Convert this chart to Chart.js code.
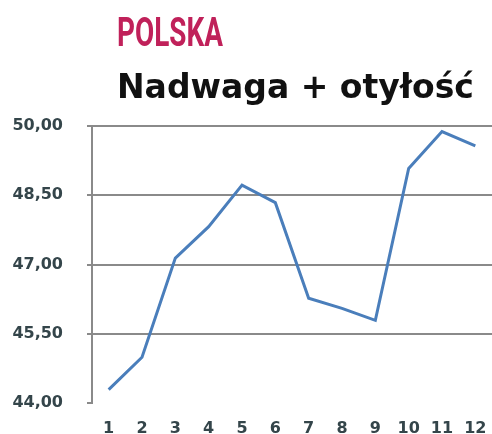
<!DOCTYPE html>
<html>
<head>
<meta charset="utf-8">
<script src="https://cdn.jsdelivr.net/npm/chart.js@4/dist/chart.umd.min.js"></script>
<style>
  html, body { margin: 0; padding: 0; background: #fff; }
  #wrap { position: relative; width: 492px; height: 434px; overflow: hidden; }
  #country {
    position: absolute; left: 117px; top: 12px;
    font-family: "Roboto", sans-serif; font-weight: 700; font-size: 41px;
    color: #c0215a;
    transform: scaleX(0.68); transform-origin: left top; line-height: 1;
  }
  #title {
    position: absolute; left: 117px; top: 70px;
    font-family: "DejaVu Sans", sans-serif; font-weight: bold; font-size: 33px;
    color: #111; line-height: 1; white-space: nowrap;
  }
  canvas { position: absolute; left: 0; top: 0; }
</style>
</head>
<body>
<div id="wrap">
  <canvas id="chart" width="492" height="434"></canvas>
  <div id="country">POLSKA</div>
  <div id="title">Nadwaga + otyłość</div>
</div>
<script>
  // dane
  const categories = ["1", "2", "3", "4", "5", "6", "7", "8", "9", "10", "11", "12"];
  const values = [44.29, 44.99, 47.14, 47.82, 48.72, 48.34, 46.27, 46.05, 45.79, 49.08, 49.88, 49.57];
  const yTicks = [44, 45.5, 47, 48.5, 50];

  const labelColor = "#34454a";
  const gridColor = "#8a8a8a";

  new Chart(document.getElementById("chart").getContext("2d"), {
    type: "line",
    data: {
      labels: categories,
      datasets: [{
        data: values,
        borderColor: "#4a7ebb",
        borderWidth: 3,
        pointRadius: 0,
        tension: 0,
        fill: false,
      }],
    },
    options: {
      responsive: false,
      animation: false,
      layout: { padding: { top: 126, left: 0, right: 0, bottom: 0 } },
      plugins: { legend: { display: false }, tooltip: { enabled: false } },
      scales: {
        x: {
          type: "category",
          offset: true,
          grid: { display: false, drawTicks: false },
          border: { display: false },
          ticks: {
            color: labelColor, padding: 16, maxRotation: 0, autoSkip: false,
            font: { family: "DejaVu Sans", size: 16, weight: "bold" },
          },
          afterFit: s => { s.height = 31; s.paddingLeft = 0; s.paddingRight = 0; },
        },
        y: {
          min: 44, max: 50,
          afterBuildTicks: s => { s.ticks = yTicks.map(v => ({ value: v })); },
          grid: {
            color: c => (c.tick && c.tick.value === 44 ? "rgba(0,0,0,0)" : gridColor),
            tickColor: gridColor,
            lineWidth: 2,
            tickLength: 5,
            drawTicks: true,
          },
          border: { display: true, color: gridColor, width: 2 },
          ticks: {
            color: labelColor, padding: 24,
            font: { family: "DejaVu Sans", size: 16, weight: "bold" },
            callback: v => v.toFixed(2).replace(".", ","),
          },
          afterFit: s => { s.width = 92; s.paddingTop = 0; s.paddingBottom = 0; },
        },
      },
    },
  });
</script>
</body>
</html>
